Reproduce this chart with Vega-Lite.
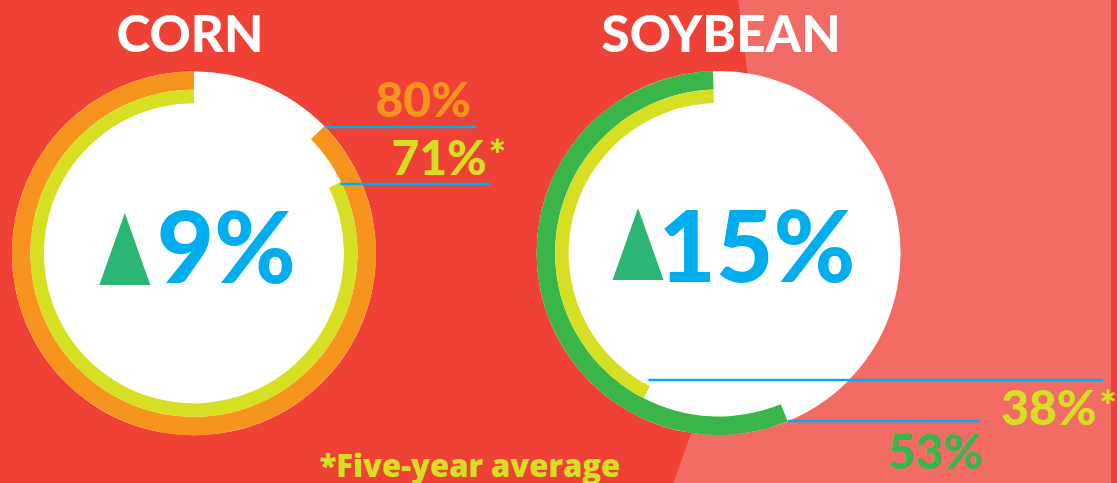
{
  "$schema": "https://vega.github.io/schema/vega-lite/v6.json",
  "width": 1117,
  "height": 483,
  "autosize": {"type": "fit", "contains": "padding"},
  "padding": 0,
  "background": "#EF4136",
  "config": {"view": {"stroke": null}},
  "datasets": {
    "bg": [
      {"px": 742, "px2": 1117, "py": 0},
      {"px": 771, "px2": 1117, "py": 222},
      {"px": 677, "px2": 1117, "py": 483}
    ],
    "discs": [
      {"crop": "Corn", "px": 195, "py": 253.3, "t0": 0, "t1": 100},
      {"crop": "Soybean", "px": 722.5, "py": 253, "t0": 0, "t1": 100}
    ],
    "rings": [
      {"crop": "Corn", "group": "Corn current", "ring": "outer", "value": 80, "px": 195, "py": 253.3, "t0": 12.7, "t1": 100},
      {"crop": "Corn", "group": "Five-year average", "ring": "inner", "value": 71, "px": 195, "py": 253.3, "t0": 17.8, "t1": 100},
      {"crop": "Soybean", "group": "Soybean current", "ring": "outer", "value": 53, "px": 722.5, "py": 253, "t0": 43.8, "t1": 99.5},
      {"crop": "Soybean", "group": "Five-year average", "ring": "inner", "value": 38, "px": 722.5, "py": 253, "t0": 57.6, "t1": 99.5}
    ],
    "rules": [
      {"group": "Corn current", "px": 327, "px2": 479, "py": 127},
      {"group": "Corn five-year average", "px": 342, "px2": 493, "py": 184},
      {"group": "Soybean five-year average", "px": 652, "px2": 1109, "py": 380},
      {"group": "Soybean current", "px": 792, "px2": 985, "py": 421}
    ],
    "labels": [
      {"group": "Corn current", "label": "80%", "px": 425.5, "py": 117},
      {"group": "Five-year average", "label": "71%", "px": 441.5, "py": 175},
      {"group": "Five-year average", "label": "38%", "px": 1054.5, "py": 425},
      {"group": "Soybean current", "label": "53%", "px": 940, "py": 469}
    ],
    "stars": [
      {"label": "*", "px": 500, "py": 170},
      {"label": "*", "px": 1114, "py": 421}
    ],
    "titles": [
      {"label": "CORN", "px": 191, "py": 52},
      {"label": "SOYBEAN", "px": 725, "py": 52}
    ],
    "changes": [
      {"crop": "Corn", "label": "9%", "px": 227.5, "py": 283},
      {"crop": "Soybean", "label": "15%", "px": 761, "py": 282}
    ],
    "triangles": [
      {"crop": "Corn", "px": 125.5, "py": 249},
      {"crop": "Soybean", "px": 641.5, "py": 244}
    ],
    "note": [
      {"label": "*Five-year average", "px": 472.5, "py": 477}
    ]
  },
  "encoding": {
    "x": {"field": "px", "type": "quantitative", "axis": null, "scale": {"domain": [0, 1117], "nice": false, "zero": false}},
    "y": {"field": "py", "type": "quantitative", "axis": null, "scale": {"domain": [0, 483], "nice": false, "zero": false, "reverse": true}}
  },
  "layer": [
    {
      "data": {"name": "bg"},
      "mark": {"type": "area", "orient": "horizontal", "color": "#F26B65", "interpolate": "linear"},
      "encoding": {"x2": {"field": "px2"}}
    },
    {
      "data": {"name": "discs"},
      "mark": {"type": "arc", "radius": 182, "radius2": 0, "color": "#FFFFFF"},
      "encoding": {
        "theta": {"field": "t0", "type": "quantitative", "stack": null, "scale": {"domain": [0, 100], "range": [0, 6.283185307179586]}},
        "theta2": {"field": "t1"}
      }
    },
    {
      "data": {"name": "rings"},
      "transform": [{"filter": "datum.ring === 'outer'"}],
      "mark": {"type": "arc", "radius": 182, "radius2": 163.5},
      "encoding": {
        "theta": {"field": "t0", "type": "quantitative", "stack": null, "scale": {"domain": [0, 100], "range": [0, 6.283185307179586]}},
        "theta2": {"field": "t1"},
        "color": {"field": "group", "type": "nominal", "legend": null, "scale": {"domain": ["Corn current", "Soybean current", "Five-year average"], "range": ["#F7941D", "#39B54A", "#D7DF23"]}}
      }
    },
    {
      "data": {"name": "rings"},
      "transform": [{"filter": "datum.ring === 'inner'"}],
      "mark": {"type": "arc", "radius": 163.5, "radius2": 150},
      "encoding": {
        "theta": {"field": "t0", "type": "quantitative", "stack": null, "scale": {"domain": [0, 100], "range": [0, 6.283185307179586]}},
        "theta2": {"field": "t1"},
        "color": {"field": "group", "type": "nominal", "legend": null, "scale": {"domain": ["Corn current", "Soybean current", "Five-year average"], "range": ["#F7941D", "#39B54A", "#D7DF23"]}}
      }
    },
    {
      "data": {"name": "rules"},
      "mark": {"type": "rule", "color": "#00AEEF", "strokeWidth": 2.5},
      "encoding": {"x2": {"field": "px2"}}
    },
    {
      "data": {"name": "labels"},
      "mark": {"type": "text", "font": "Lato", "fontWeight": 900, "fontSize": 48, "align": "center", "baseline": "alphabetic"},
      "encoding": {
        "text": {"field": "label"},
        "color": {"field": "group", "type": "nominal", "legend": null, "scale": {"domain": ["Corn current", "Soybean current", "Five-year average"], "range": ["#F7941D", "#39B54A", "#D7DF23"]}}
      }
    },
    {
      "data": {"name": "stars"},
      "mark": {"type": "text", "font": "Lato", "fontWeight": 900, "fontSize": 42, "align": "center", "baseline": "alphabetic", "color": "#D7DF23"},
      "encoding": {"text": {"field": "label"}}
    },
    {
      "data": {"name": "titles"},
      "mark": {"type": "text", "font": "Lato", "fontWeight": 900, "fontSize": 51, "align": "center", "baseline": "alphabetic", "color": "#FFFFFF"},
      "encoding": {"text": {"field": "label"}}
    },
    {
      "data": {"name": "changes"},
      "mark": {"type": "text", "font": "Lato", "fontWeight": 900, "fontSize": 99, "align": "center", "baseline": "alphabetic", "color": "#00AEEF"},
      "encoding": {"text": {"field": "label"}}
    },
    {
      "data": {"name": "triangles"},
      "mark": {"type": "point", "shape": "M0,-1L0.708,1L-0.708,1Z", "filled": true, "size": 5184, "color": "#2BB673", "opacity": 1, "strokeWidth": 0}
    },
    {
      "data": {"name": "note"},
      "mark": {"type": "text", "font": "Open Sans", "fontWeight": 800, "fontSize": 31, "align": "center", "baseline": "alphabetic", "color": "#D7DF23"},
      "encoding": {"text": {"field": "label"}}
    }
  ]
}
